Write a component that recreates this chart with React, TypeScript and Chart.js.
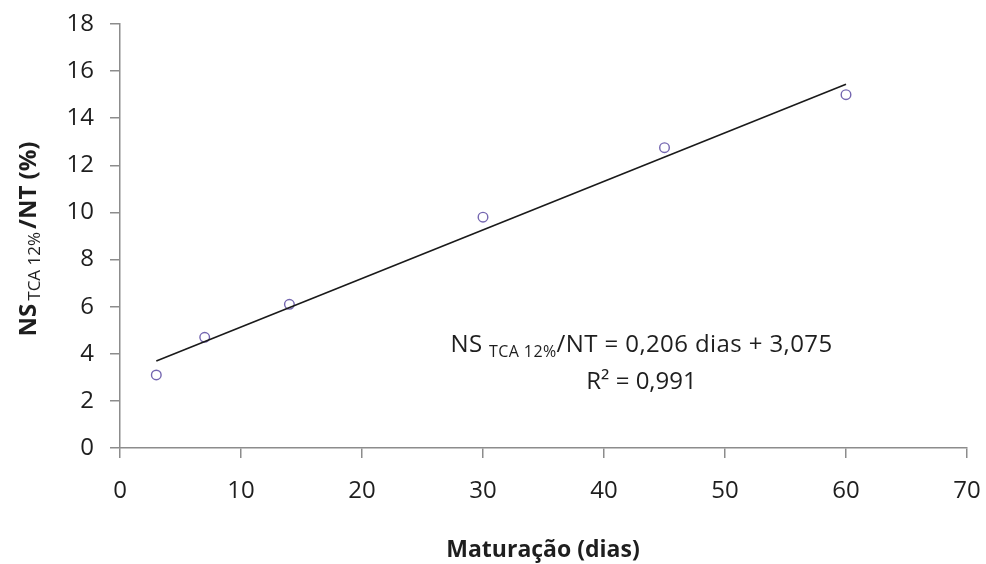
import React, { useEffect, useRef } from "react";
import { Chart, registerables } from "chart.js";

Chart.register(...registerables);

const maturacao = [3, 7, 14, 30, 45, 60];
const nsNt = [3.1, 4.7, 6.1, 9.8, 12.75, 15.0];
const trendX = [3, 60];
const trendY = [3.69, 15.44];
const xTicks = [0, 10, 20, 30, 40, 50, 60, 70];
const yTicks = [0, 2, 4, 6, 8, 10, 12, 14, 16, 18];
const eqMain = "NS ";
const eqSub = "TCA 12%";
const eqRest = "/NT = 0,206 dias + 3,075";
const r2Text = "R² = 0,991";
const xTitle = "Maturação (dias)";
const yTitleMain = "NS";
const yTitleSub = "TCA 12%";
const yTitleRest = "/NT (%)";

const FONT = "'Open Sans', 'Liberation Sans', sans-serif";
const TEXT = "#1e1e1e";
const AXIS = "#8c8c8c";

const textPlugin = {
  id: "texts",
  afterDraw(chart: any) {
    const ctx = chart.ctx;
    const xs = chart.scales.x;
    const ys = chart.scales.y;
    ctx.save();
    ctx.fillStyle = TEXT;
    ctx.textBaseline = "alphabetic";
    // x title
    ctx.font = `bold 23px ${FONT}`;
    ctx.textAlign = "center";
    ctx.fillText(xTitle, 543, 557);
    // y title rotated with subscript
    ctx.save();
    ctx.translate(36, 239);
    ctx.rotate(-Math.PI / 2);
    const bigB = `bold 24px ${FONT}`;
    const small = `17px ${FONT}`;
    ctx.font = bigB;
    const w1 = ctx.measureText(yTitleMain).width;
    const w3 = ctx.measureText(yTitleRest).width;
    ctx.font = small;
    const w2 = ctx.measureText(yTitleSub).width + 6;
    const x0 = -(w1 + w2 + w3) / 2;
    ctx.textAlign = "left";
    ctx.font = bigB;
    ctx.fillText(yTitleMain, x0, 0);
    ctx.font = small;
    ctx.fillText(yTitleSub, x0 + w1 + 3, 4);
    ctx.font = bigB;
    ctx.fillText(yTitleRest, x0 + w1 + w2, 0);
    ctx.restore();
    // equation annotation
    const cx = xs.getPixelForValue(43.1);
    const y1 = ys.getPixelForValue(4.07);
    const y2 = ys.getPixelForValue(2.49);
    const big = `24px ${FONT}`;
    const sm = `16px ${FONT}`;
    (ctx as any).letterSpacing = "0.4px";
    ctx.font = big;
    const a1 = ctx.measureText(eqMain).width;
    const a3 = ctx.measureText(eqRest).width;
    ctx.font = sm;
    const a2 = ctx.measureText(eqSub).width;
    const ex = cx - (a1 + a2 + a3) / 2;
    ctx.textAlign = "left";
    ctx.font = big;
    ctx.fillText(eqMain, ex, y1);
    ctx.font = sm;
    ctx.fillText(eqSub, ex + a1, y1 + 5);
    ctx.font = big;
    ctx.fillText(eqRest, ex + a1 + a2, y1);
    (ctx as any).letterSpacing = "0px";
    ctx.textAlign = "center";
    ctx.fillText(r2Text, cx, y2);
    ctx.restore();
  },
};

export default function App() {
  const ref = useRef<HTMLCanvasElement>(null);
  useEffect(() => {
    const chart = new Chart(ref.current as HTMLCanvasElement, {
      type: "scatter",
      data: {
        datasets: [
          {
            type: "line",
            data: trendX.map((x, i) => ({ x, y: trendY[i] })),
            borderColor: "#1a1a1a",
            borderWidth: 1.6,
            pointRadius: 0,
            fill: false,
          } as any,
          {
            data: maturacao.map((x, i) => ({ x, y: nsNt[i] })),
            pointStyle: "circle",
            pointRadius: 4.8,
            pointBorderWidth: 1.4,
            pointBorderColor: "#7466b0",
            pointBackgroundColor: "rgba(255,255,255,0)",
          },
        ],
      },
      options: {
        responsive: false,
        animation: false,
        layout: { padding: { top: 24, right: 19, left: 0, bottom: 0 } },
        plugins: { legend: { display: false }, tooltip: { enabled: false } },
        scales: {
          x: {
            type: "linear",
            min: 0,
            max: 70,
            afterBuildTicks: (s: any) => {
              s.ticks = xTicks.map((v) => ({ value: v }));
            },
            afterFit: (s: any) => {
              s.height = 116;
              s.paddingLeft = 0;
              s.paddingRight = 0;
            },
            ticks: { font: { family: FONT, size: 24 }, color: TEXT, padding: 19, maxRotation: 0 },
            grid: { display: true, drawOnChartArea: false, drawTicks: true, tickLength: 10, color: AXIS, lineWidth: 1.5 },
            border: { display: true, color: AXIS, width: 1.5 },
          },
          y: {
            type: "linear",
            min: 0,
            max: 18,
            afterBuildTicks: (s: any) => {
              s.ticks = yTicks.map((v) => ({ value: v }));
            },
            afterFit: (s: any) => {
              s.width = 120;
              s.paddingTop = 0;
              s.paddingBottom = 0;
            },
            ticks: { font: { family: FONT, size: 24 }, color: TEXT, padding: 16 },
            grid: { display: true, drawOnChartArea: false, drawTicks: true, tickLength: 10, color: AXIS, lineWidth: 1.5 },
            border: { display: true, color: AXIS, width: 1.5 },
          },
        },
      },
      plugins: [textPlugin],
    });
    return () => chart.destroy();
  }, []);
  return (
    <div style={{ position: "absolute", left: 0, top: 0, width: 986, height: 564, background: "#fff" }}>
      <canvas ref={ref} width={986} height={564} />
    </div>
  );
}
